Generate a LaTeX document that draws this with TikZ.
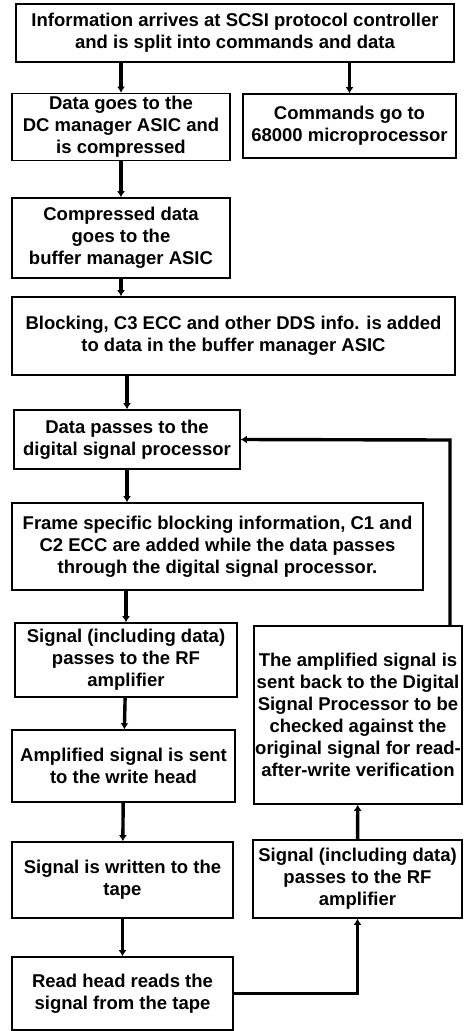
\documentclass[tikz,border=0pt]{standalone}
\usepackage{fontspec}
\setmainfont{Liberation Sans}
\usetikzlibrary{arrows.meta}

\begin{document}
\begin{tikzpicture}[x=1pt,y=-1pt,
  box/.style={draw, line width=1.6pt, align=center, inner sep=0pt,
    font=\fontsize{18.5}{22}\selectfont\bfseries},
  arr/.style={-{Latex[length=6pt,width=8pt]}, line width=3.4pt}]
%\draw[help lines] (0,0) grid[step=50] (467,1031);
\useasboundingbox (0,0) rectangle (467,1031);
%==================== Top part ==================
\node[box, minimum width=438pt, minimum height=58pt] (info) at (235,33)
  {Information arrives at SCSI protocol controller\\ and is split into commands and data};
\node[box, minimum width=218pt, minimum height=67pt] (data) at (121,127)
  {Data goes to the\\ DC manager ASIC and\\ is compressed};
\node[box, minimum width=213pt, minimum height=64pt] (cmds) at (349.5,126)
  {Commands go to\\ 68000 microprocessor};
\node[box, minimum width=218pt, minimum height=80pt] (compr) at (121,238)
  {Compressed data\\ goes to the\\ buffer manager ASIC};
\node[box, minimum width=443pt, minimum height=78pt] (block) at (233.5,336)
  {Blocking, C3 ECC and other DDS info. is added\\ to data in the buffer manager ASIC};
%==================== Digital signal processor ==================
\node[box, minimum width=226pt, minimum height=59pt] (dpass) at (127,439.5)
  {Data passes to the\\ digital signal processor};
\node[box, minimum width=411pt, minimum height=87pt] (frame) at (217.5,546.5)
  {Frame specific blocking information, C1 and\\ C2 ECC are added while the data passes\\ through the digital signal processor.};
%==================== Write side ==================
\node[box, minimum width=222pt, minimum height=74pt] (sigrf) at (126,660)
  {Signal (including data)\\ passes to the RF\\ amplifier};
\node[box, minimum width=223pt, minimum height=72pt] (ampl) at (123.5,766)
  {Amplified signal is sent\\ to the write head};
\node[box, minimum width=221pt, minimum height=76pt] (written) at (122.5,880)
  {Signal is written to the\\ tape};
\node[box, minimum width=221pt, minimum height=73pt] (readh) at (122.5,993.5)
  {Read head reads the\\ signal from the tape};
%==================== Read side ==================
\node[box, minimum width=208pt, minimum height=178pt] (back) at (358,715)
  {The amplified signal is\\ sent back to the Digital\\ Signal Processor to be\\ checked against the\\ original signal for read-\\ after-write verification};
\node[box, minimum width=209pt, minimum height=78pt] (sigrf2) at (357.5,879)
  {Signal (including data)\\ passes to the RF\\ amplifier};
%=================== Arrows =================================
\draw[arr] (info.south -| data) -- (data);
\draw[arr] (info.south -| cmds) -- (cmds);
\draw[arr] (data) -- (compr);
\draw[arr] (compr) -- (compr |- block.north);
\draw[arr] (block.south -| dpass) -- (dpass);
\draw[arr] (dpass) -- (dpass |- frame.north);
\draw[arr] (frame.south -| sigrf) -- (sigrf);
\draw[arr] (sigrf) -- (ampl);
\draw[arr] (ampl) -- (written);
\draw[arr] (written) -- (readh);
\draw[arr] (readh) -| (sigrf2);
\draw[arr] (sigrf2) -- (back);
%======================= Feedback =============================
\coordinate (turn) at (450,440);
\draw[arr] (back.north -| turn) -- (turn) -- (dpass.east);
\end{tikzpicture}
\end{document}
